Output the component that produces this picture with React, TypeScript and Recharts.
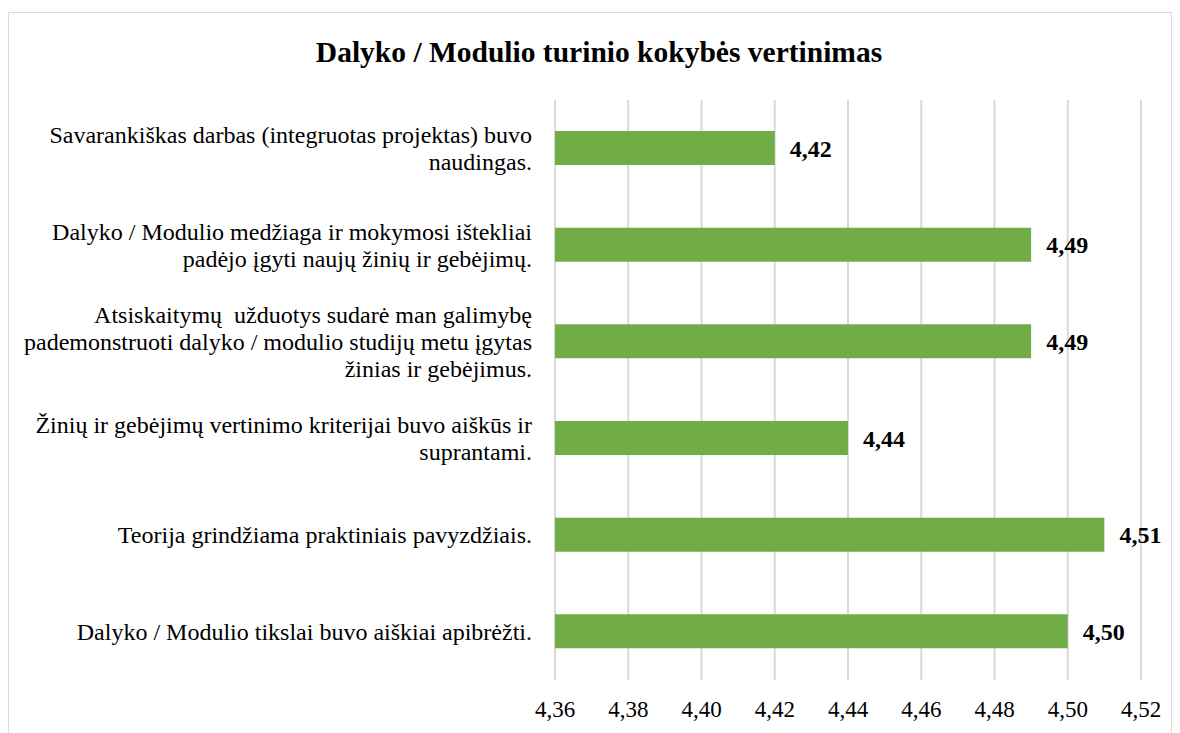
import { BarChart, Bar, XAxis, YAxis, CartesianGrid, LabelList } from "recharts";

const categories = [
  "Savarankiškas darbas (integruotas projektas) buvo\nnaudingas.",
  "Dalyko / Modulio medžiaga ir mokymosi ištekliai\npadėjo įgyti naujų žinių ir gebėjimų.",
  "Atsiskaitymų  užduotys sudarė man galimybę\npademonstruoti dalyko / modulio studijų metu įgytas\nžinias ir gebėjimus.",
  "Žinių ir gebėjimų vertinimo kriterijai buvo aiškūs ir\nsuprantami.",
  "Teorija grindžiama praktiniais pavyzdžiais.",
  "Dalyko / Modulio tikslai buvo aiškiai apibrėžti.",
];
const scores = [4.42, 4.49, 4.49, 4.44, 4.51, 4.5];
const xTicks = [4.36, 4.38, 4.4, 4.42, 4.44, 4.46, 4.48, 4.5, 4.52];

const data = categories.map((label, i) => ({ label, score: scores[i] }));

const FONT = '"Liberation Serif", "Times New Roman", serif';
const fmt = (v: number) => Number(v).toFixed(2).replace(".", ",");

// multi-line category label, right aligned against the plot
function CategoryTick({ x, y, payload }: any) {
  const lines = String(payload.value).split("\n");
  const lineHeight = 27;
  const start = y + 8 - ((lines.length - 1) * lineHeight) / 2;
  return (
    <text
      x={x}
      y={start}
      textAnchor="end"
      fill="#000"
      fontFamily={FONT}
      style={{ whiteSpace: "pre", fontFamily: FONT, fontSize: 24 }}
    >
      {lines.map((line, i) => (
        <tspan key={i} x={x} y={start + i * lineHeight}>
          {line}
        </tspan>
      ))}
    </text>
  );
}

function ValueTick({ x, y, payload }: any) {
  return (
    <text
      x={x}
      y={y + 16}
      textAnchor="middle"
      fill="#000"
      fontFamily={FONT}
      style={{ fontFamily: FONT, fontSize: 23 }}
    >
      {fmt(payload.value)}
    </text>
  );
}

export default function App() {
  return (
    <div
      style={{
        position: "fixed",
        left: 8,
        top: 12,
        width: 1164,
        height: 740,
        boxSizing: "border-box",
        border: "1px solid #d9d9d9",
        background: "#fff",
        fontFamily: FONT,
      }}
    >
      <div
        style={{
          position: "absolute",
          top: 23,
          left: 18,
          width: 1144,
          textAlign: "center",
          fontFamily: FONT,
          fontWeight: "bold",
          fontSize: 29.5,
          lineHeight: "33px",
          color: "#000",
          whiteSpace: "nowrap",
        }}
      >
        Dalyko / Modulio turinio kokybės vertinimas
      </div>
      <div style={{ position: "absolute", top: 0, left: 0 }}>
        <BarChart
          width={1162}
          height={720}
          data={data}
          layout="vertical"
          margin={{ top: 87, right: 30, bottom: 0, left: 0 }}
          barSize={34}
        >
          <CartesianGrid horizontal={false} stroke="#d9d9d9" strokeWidth={2} />
          <XAxis
            type="number"
            domain={[4.36, 4.52]}
            ticks={xTicks}
            axisLine={false}
            tickLine={false}
            tickSize={0}
            tickMargin={21}
            height={53}
            tick={<ValueTick />}
            allowDataOverflow
          />
          <YAxis
            type="category"
            dataKey="label"
            width={546}
            axisLine={false}
            tickLine={false}
            tickSize={0}
            tickMargin={23}
            tick={<CategoryTick />}
            interval={0}
          />
          <Bar dataKey="score" fill="#70AD47" isAnimationActive={false}>
            <LabelList
              dataKey="score"
              position="right"
              offset={15}
              formatter={(v: any) => fmt(v)}
              fill="#000"
              fontFamily={FONT}
              style={{ fontFamily: FONT, fontSize: 24, fontWeight: "bold", fill: "#000" }}
            />
          </Bar>
        </BarChart>
      </div>
    </div>
  );
}
